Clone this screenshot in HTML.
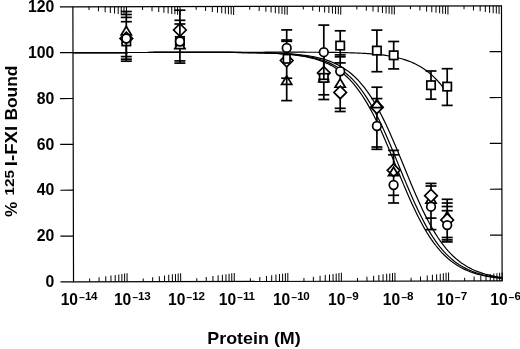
<!DOCTYPE html><html><head><meta charset="utf-8"><title>Protein binding</title>
<style>html,body{margin:0;padding:0;background:#fff}svg{display:block}text{font-family:"Liberation Sans",sans-serif;font-weight:bold;fill:#000}</style></head><body>
<svg width="520" height="349" viewBox="0 0 520 349">
<rect width="520" height="349" fill="#fff"/>
<g transform="rotate(-0.134 287.5 143.85)">
<g stroke="#000" stroke-width="1.2" fill="none" stroke-linecap="butt">
<rect x="73.2" y="6.3" width="428.6" height="275.09999999999997"/>
<line x1="60.2" y1="281.40" x2="73.2" y2="281.40"/>
<line x1="60.2" y1="235.55" x2="73.2" y2="235.55"/>
<line x1="489.8" y1="235.55" x2="501.8" y2="235.55"/>
<line x1="60.2" y1="189.70" x2="73.2" y2="189.70"/>
<line x1="489.8" y1="189.70" x2="501.8" y2="189.70"/>
<line x1="60.2" y1="143.85" x2="73.2" y2="143.85"/>
<line x1="489.8" y1="143.85" x2="501.8" y2="143.85"/>
<line x1="60.2" y1="98.00" x2="73.2" y2="98.00"/>
<line x1="489.8" y1="98.00" x2="501.8" y2="98.00"/>
<line x1="60.2" y1="52.15" x2="73.2" y2="52.15"/>
<line x1="489.8" y1="52.15" x2="501.8" y2="52.15"/>
<line x1="60.2" y1="6.30" x2="73.2" y2="6.30"/>
</g>
<g stroke="#000" stroke-width="1.0" fill="none">
<line x1="89.33" y1="6.3" x2="89.33" y2="9.56"/>
<line x1="89.33" y1="281.4" x2="89.33" y2="278.14"/>
<line x1="98.76" y1="6.3" x2="98.76" y2="10.88"/>
<line x1="98.76" y1="281.4" x2="98.76" y2="276.82"/>
<line x1="105.46" y1="6.3" x2="105.46" y2="11.82"/>
<line x1="105.46" y1="281.4" x2="105.46" y2="275.88"/>
<line x1="110.65" y1="6.3" x2="110.65" y2="12.54"/>
<line x1="110.65" y1="281.4" x2="110.65" y2="275.16"/>
<line x1="114.89" y1="6.3" x2="114.89" y2="13.14"/>
<line x1="114.89" y1="281.4" x2="114.89" y2="274.56"/>
<line x1="118.48" y1="6.3" x2="118.48" y2="13.64"/>
<line x1="118.48" y1="281.4" x2="118.48" y2="274.06"/>
<line x1="121.58" y1="6.3" x2="121.58" y2="14.07"/>
<line x1="121.58" y1="281.4" x2="121.58" y2="273.63"/>
<line x1="124.32" y1="6.3" x2="124.32" y2="14.46"/>
<line x1="124.32" y1="281.4" x2="124.32" y2="273.24"/>
<line x1="126.78" y1="6.3" x2="126.78" y2="14.80"/>
<line x1="126.78" y1="281.4" x2="126.78" y2="272.90"/>
<line x1="142.90" y1="6.3" x2="142.90" y2="9.56"/>
<line x1="142.90" y1="281.4" x2="142.90" y2="278.14"/>
<line x1="152.34" y1="6.3" x2="152.34" y2="10.88"/>
<line x1="152.34" y1="281.4" x2="152.34" y2="276.82"/>
<line x1="159.03" y1="6.3" x2="159.03" y2="11.82"/>
<line x1="159.03" y1="281.4" x2="159.03" y2="275.88"/>
<line x1="164.22" y1="6.3" x2="164.22" y2="12.54"/>
<line x1="164.22" y1="281.4" x2="164.22" y2="275.16"/>
<line x1="168.46" y1="6.3" x2="168.46" y2="13.14"/>
<line x1="168.46" y1="281.4" x2="168.46" y2="274.56"/>
<line x1="172.05" y1="6.3" x2="172.05" y2="13.64"/>
<line x1="172.05" y1="281.4" x2="172.05" y2="274.06"/>
<line x1="175.16" y1="6.3" x2="175.16" y2="14.07"/>
<line x1="175.16" y1="281.4" x2="175.16" y2="273.63"/>
<line x1="177.90" y1="6.3" x2="177.90" y2="14.46"/>
<line x1="177.90" y1="281.4" x2="177.90" y2="273.24"/>
<line x1="180.35" y1="6.3" x2="180.35" y2="14.80"/>
<line x1="180.35" y1="281.4" x2="180.35" y2="272.90"/>
<line x1="196.48" y1="6.3" x2="196.48" y2="9.56"/>
<line x1="196.48" y1="281.4" x2="196.48" y2="278.14"/>
<line x1="205.91" y1="6.3" x2="205.91" y2="10.88"/>
<line x1="205.91" y1="281.4" x2="205.91" y2="276.82"/>
<line x1="212.61" y1="6.3" x2="212.61" y2="11.82"/>
<line x1="212.61" y1="281.4" x2="212.61" y2="275.88"/>
<line x1="217.80" y1="6.3" x2="217.80" y2="12.54"/>
<line x1="217.80" y1="281.4" x2="217.80" y2="275.16"/>
<line x1="222.04" y1="6.3" x2="222.04" y2="13.14"/>
<line x1="222.04" y1="281.4" x2="222.04" y2="274.56"/>
<line x1="225.63" y1="6.3" x2="225.63" y2="13.64"/>
<line x1="225.63" y1="281.4" x2="225.63" y2="274.06"/>
<line x1="228.73" y1="6.3" x2="228.73" y2="14.07"/>
<line x1="228.73" y1="281.4" x2="228.73" y2="273.63"/>
<line x1="231.47" y1="6.3" x2="231.47" y2="14.46"/>
<line x1="231.47" y1="281.4" x2="231.47" y2="273.24"/>
<line x1="233.93" y1="6.3" x2="233.93" y2="14.80"/>
<line x1="233.93" y1="281.4" x2="233.93" y2="272.90"/>
<line x1="250.05" y1="6.3" x2="250.05" y2="9.56"/>
<line x1="250.05" y1="281.4" x2="250.05" y2="278.14"/>
<line x1="259.49" y1="6.3" x2="259.49" y2="10.88"/>
<line x1="259.49" y1="281.4" x2="259.49" y2="276.82"/>
<line x1="266.18" y1="6.3" x2="266.18" y2="11.82"/>
<line x1="266.18" y1="281.4" x2="266.18" y2="275.88"/>
<line x1="271.37" y1="6.3" x2="271.37" y2="12.54"/>
<line x1="271.37" y1="281.4" x2="271.37" y2="275.16"/>
<line x1="275.61" y1="6.3" x2="275.61" y2="13.14"/>
<line x1="275.61" y1="281.4" x2="275.61" y2="274.56"/>
<line x1="279.20" y1="6.3" x2="279.20" y2="13.64"/>
<line x1="279.20" y1="281.4" x2="279.20" y2="274.06"/>
<line x1="282.31" y1="6.3" x2="282.31" y2="14.07"/>
<line x1="282.31" y1="281.4" x2="282.31" y2="273.63"/>
<line x1="285.05" y1="6.3" x2="285.05" y2="14.46"/>
<line x1="285.05" y1="281.4" x2="285.05" y2="273.24"/>
<line x1="287.50" y1="6.3" x2="287.50" y2="14.80"/>
<line x1="287.50" y1="281.4" x2="287.50" y2="272.90"/>
<line x1="303.63" y1="6.3" x2="303.63" y2="9.56"/>
<line x1="303.63" y1="281.4" x2="303.63" y2="278.14"/>
<line x1="313.06" y1="6.3" x2="313.06" y2="10.88"/>
<line x1="313.06" y1="281.4" x2="313.06" y2="276.82"/>
<line x1="319.76" y1="6.3" x2="319.76" y2="11.82"/>
<line x1="319.76" y1="281.4" x2="319.76" y2="275.88"/>
<line x1="324.95" y1="6.3" x2="324.95" y2="12.54"/>
<line x1="324.95" y1="281.4" x2="324.95" y2="275.16"/>
<line x1="329.19" y1="6.3" x2="329.19" y2="13.14"/>
<line x1="329.19" y1="281.4" x2="329.19" y2="274.56"/>
<line x1="332.78" y1="6.3" x2="332.78" y2="13.64"/>
<line x1="332.78" y1="281.4" x2="332.78" y2="274.06"/>
<line x1="335.88" y1="6.3" x2="335.88" y2="14.07"/>
<line x1="335.88" y1="281.4" x2="335.88" y2="273.63"/>
<line x1="338.62" y1="6.3" x2="338.62" y2="14.46"/>
<line x1="338.62" y1="281.4" x2="338.62" y2="273.24"/>
<line x1="341.07" y1="6.3" x2="341.07" y2="14.80"/>
<line x1="341.07" y1="281.4" x2="341.07" y2="272.90"/>
<line x1="357.20" y1="6.3" x2="357.20" y2="9.56"/>
<line x1="357.20" y1="281.4" x2="357.20" y2="278.14"/>
<line x1="366.64" y1="6.3" x2="366.64" y2="10.88"/>
<line x1="366.64" y1="281.4" x2="366.64" y2="276.82"/>
<line x1="373.33" y1="6.3" x2="373.33" y2="11.82"/>
<line x1="373.33" y1="281.4" x2="373.33" y2="275.88"/>
<line x1="378.52" y1="6.3" x2="378.52" y2="12.54"/>
<line x1="378.52" y1="281.4" x2="378.52" y2="275.16"/>
<line x1="382.76" y1="6.3" x2="382.76" y2="13.14"/>
<line x1="382.76" y1="281.4" x2="382.76" y2="274.56"/>
<line x1="386.35" y1="6.3" x2="386.35" y2="13.64"/>
<line x1="386.35" y1="281.4" x2="386.35" y2="274.06"/>
<line x1="389.46" y1="6.3" x2="389.46" y2="14.07"/>
<line x1="389.46" y1="281.4" x2="389.46" y2="273.63"/>
<line x1="392.20" y1="6.3" x2="392.20" y2="14.46"/>
<line x1="392.20" y1="281.4" x2="392.20" y2="273.24"/>
<line x1="394.65" y1="6.3" x2="394.65" y2="14.80"/>
<line x1="394.65" y1="281.4" x2="394.65" y2="272.90"/>
<line x1="410.78" y1="6.3" x2="410.78" y2="9.56"/>
<line x1="410.78" y1="281.4" x2="410.78" y2="278.14"/>
<line x1="420.21" y1="6.3" x2="420.21" y2="10.88"/>
<line x1="420.21" y1="281.4" x2="420.21" y2="276.82"/>
<line x1="426.91" y1="6.3" x2="426.91" y2="11.82"/>
<line x1="426.91" y1="281.4" x2="426.91" y2="275.88"/>
<line x1="432.10" y1="6.3" x2="432.10" y2="12.54"/>
<line x1="432.10" y1="281.4" x2="432.10" y2="275.16"/>
<line x1="436.34" y1="6.3" x2="436.34" y2="13.14"/>
<line x1="436.34" y1="281.4" x2="436.34" y2="274.56"/>
<line x1="439.93" y1="6.3" x2="439.93" y2="13.64"/>
<line x1="439.93" y1="281.4" x2="439.93" y2="274.06"/>
<line x1="443.03" y1="6.3" x2="443.03" y2="14.07"/>
<line x1="443.03" y1="281.4" x2="443.03" y2="273.63"/>
<line x1="445.77" y1="6.3" x2="445.77" y2="14.46"/>
<line x1="445.77" y1="281.4" x2="445.77" y2="273.24"/>
<line x1="448.23" y1="6.3" x2="448.23" y2="14.80"/>
<line x1="448.23" y1="281.4" x2="448.23" y2="272.90"/>
<line x1="464.35" y1="6.3" x2="464.35" y2="9.56"/>
<line x1="464.35" y1="281.4" x2="464.35" y2="278.14"/>
<line x1="473.79" y1="6.3" x2="473.79" y2="10.88"/>
<line x1="473.79" y1="281.4" x2="473.79" y2="276.82"/>
<line x1="480.48" y1="6.3" x2="480.48" y2="11.82"/>
<line x1="480.48" y1="281.4" x2="480.48" y2="275.88"/>
<line x1="485.67" y1="6.3" x2="485.67" y2="12.54"/>
<line x1="485.67" y1="281.4" x2="485.67" y2="275.16"/>
<line x1="489.91" y1="6.3" x2="489.91" y2="13.14"/>
<line x1="489.91" y1="281.4" x2="489.91" y2="274.56"/>
<line x1="493.50" y1="6.3" x2="493.50" y2="13.64"/>
<line x1="493.50" y1="281.4" x2="493.50" y2="274.06"/>
<line x1="496.61" y1="6.3" x2="496.61" y2="14.07"/>
<line x1="496.61" y1="281.4" x2="496.61" y2="273.63"/>
<line x1="499.35" y1="6.3" x2="499.35" y2="14.46"/>
<line x1="499.35" y1="281.4" x2="499.35" y2="273.24"/>
<line x1="501.80" y1="6.3" x2="501.80" y2="14.80"/>
<line x1="501.80" y1="281.4" x2="501.80" y2="272.90"/>
</g>
<g stroke="#000" stroke-width="1.2" fill="none">
<path d="M73.20,52.15 L75.34,52.15 L77.49,52.15 L79.63,52.15 L81.77,52.15 L83.91,52.15 L86.06,52.15 L88.20,52.15 L90.34,52.15 L92.49,52.15 L94.63,52.15 L96.77,52.15 L98.92,52.15 L101.06,52.15 L103.20,52.15 L105.34,52.15 L107.49,52.15 L109.63,52.15 L111.77,52.15 L113.92,52.15 L116.06,52.15 L118.20,52.15 L120.35,52.15 L122.49,52.15 L124.63,52.15 L126.78,52.15 L128.92,52.15 L131.06,52.15 L133.20,52.15 L135.35,52.15 L137.49,52.15 L139.63,52.15 L141.78,52.15 L143.92,52.15 L146.06,52.15 L148.21,52.16 L150.35,52.16 L152.49,52.16 L154.63,52.16 L156.78,52.16 L158.92,52.16 L161.06,52.16 L163.21,52.16 L165.35,52.16 L167.49,52.16 L169.64,52.16 L171.78,52.16 L173.92,52.17 L176.06,52.17 L178.21,52.17 L180.35,52.17 L182.49,52.17 L184.64,52.18 L186.78,52.18 L188.92,52.18 L191.06,52.18 L193.21,52.19 L195.35,52.19 L197.49,52.19 L199.64,52.20 L201.78,52.20 L203.92,52.21 L206.07,52.21 L208.21,52.22 L210.35,52.23 L212.50,52.24 L214.64,52.24 L216.78,52.25 L218.92,52.26 L221.07,52.27 L223.21,52.29 L225.35,52.30 L227.50,52.31 L229.64,52.33 L231.78,52.35 L233.93,52.37 L236.07,52.39 L238.21,52.41 L240.35,52.43 L242.50,52.46 L244.64,52.49 L246.78,52.52 L248.93,52.56 L251.07,52.60 L253.21,52.64 L255.36,52.69 L257.50,52.74 L259.64,52.80 L261.78,52.86 L263.93,52.93 L266.07,53.00 L268.21,53.09 L270.36,53.18 L272.50,53.27 L274.64,53.38 L276.79,53.50 L278.93,53.63 L281.07,53.77 L283.21,53.93 L285.36,54.10 L287.50,54.28 L289.64,54.49 L291.79,54.71 L293.93,54.95 L296.07,55.22 L298.21,55.51 L300.36,55.83 L302.50,56.18 L304.64,56.56 L306.79,56.98 L308.93,57.43 L311.07,57.93 L313.22,58.47 L315.36,59.06 L317.50,59.71 L319.64,60.41 L321.79,61.18 L323.93,62.01 L326.07,62.92 L328.22,63.90 L330.36,64.97 L332.50,66.13 L334.65,67.39 L336.79,68.76 L338.93,70.23 L341.07,71.83 L343.22,73.55 L345.36,75.40 L347.50,77.40 L349.65,79.55 L351.79,81.85 L353.93,84.31 L356.08,86.94 L358.22,89.75 L360.36,92.73 L362.50,95.90 L364.65,99.26 L366.79,102.80 L368.93,106.52 L371.08,110.44 L373.22,114.53 L375.36,118.80 L377.51,123.23 L379.65,127.83 L381.79,132.57 L383.94,137.44 L386.08,142.43 L388.22,147.51 L390.36,152.68 L392.51,157.90 L394.65,163.17 L396.79,168.44 L398.94,173.71 L401.08,178.96 L403.22,184.15 L405.37,189.26 L407.51,194.29 L409.65,199.21 L411.79,204.00 L413.94,208.65 L416.08,213.14 L418.22,217.47 L420.37,221.63 L422.51,225.61 L424.65,229.41 L426.80,233.02 L428.94,236.44 L431.08,239.67 L433.22,242.73 L435.37,245.60 L437.51,248.29 L439.65,250.82 L441.80,253.18 L443.94,255.38 L446.08,257.43 L448.23,259.33 L450.37,261.10 L452.51,262.74 L454.65,264.26 L456.80,265.67 L458.94,266.97 L461.08,268.16 L463.23,269.27 L465.37,270.28 L467.51,271.22 L469.66,272.08 L471.80,272.87 L473.94,273.59 L476.08,274.26 L478.23,274.87 L480.37,275.43 L482.51,275.94 L484.66,276.41 L486.80,276.84 L488.94,277.23 L491.08,277.59 L493.23,277.92 L495.37,278.23 L497.51,278.50 L499.66,278.75 L501.80,278.98"/>
<path d="M73.20,52.15 L75.34,52.15 L77.49,52.15 L79.63,52.15 L81.77,52.15 L83.91,52.15 L86.06,52.15 L88.20,52.15 L90.34,52.15 L92.49,52.15 L94.63,52.15 L96.77,52.15 L98.92,52.15 L101.06,52.15 L103.20,52.15 L105.34,52.15 L107.49,52.15 L109.63,52.15 L111.77,52.15 L113.92,52.15 L116.06,52.15 L118.20,52.15 L120.35,52.15 L122.49,52.15 L124.63,52.15 L126.78,52.15 L128.92,52.15 L131.06,52.15 L133.20,52.15 L135.35,52.15 L137.49,52.15 L139.63,52.15 L141.78,52.15 L143.92,52.15 L146.06,52.15 L148.21,52.15 L150.35,52.16 L152.49,52.16 L154.63,52.16 L156.78,52.16 L158.92,52.16 L161.06,52.16 L163.21,52.16 L165.35,52.16 L167.49,52.16 L169.64,52.16 L171.78,52.16 L173.92,52.16 L176.06,52.17 L178.21,52.17 L180.35,52.17 L182.49,52.17 L184.64,52.17 L186.78,52.17 L188.92,52.18 L191.06,52.18 L193.21,52.18 L195.35,52.19 L197.49,52.19 L199.64,52.19 L201.78,52.20 L203.92,52.20 L206.07,52.21 L208.21,52.21 L210.35,52.22 L212.50,52.23 L214.64,52.23 L216.78,52.24 L218.92,52.25 L221.07,52.26 L223.21,52.27 L225.35,52.28 L227.50,52.29 L229.64,52.31 L231.78,52.32 L233.93,52.34 L236.07,52.36 L238.21,52.38 L240.35,52.40 L242.50,52.42 L244.64,52.45 L246.78,52.48 L248.93,52.51 L251.07,52.54 L253.21,52.58 L255.36,52.62 L257.50,52.67 L259.64,52.72 L261.78,52.77 L263.93,52.83 L266.07,52.90 L268.21,52.97 L270.36,53.05 L272.50,53.14 L274.64,53.23 L276.79,53.33 L278.93,53.45 L281.07,53.57 L283.21,53.71 L285.36,53.86 L287.50,54.02 L289.64,54.20 L291.79,54.40 L293.93,54.61 L296.07,54.85 L298.21,55.10 L300.36,55.38 L302.50,55.69 L304.64,56.03 L306.79,56.39 L308.93,56.79 L311.07,57.23 L313.22,57.71 L315.36,58.23 L317.50,58.80 L319.64,59.42 L321.79,60.10 L323.93,60.84 L326.07,61.64 L328.22,62.52 L330.36,63.47 L332.50,64.50 L334.65,65.62 L336.79,66.84 L338.93,68.16 L341.07,69.58 L343.22,71.13 L345.36,72.79 L347.50,74.59 L349.65,76.52 L351.79,78.60 L353.93,80.84 L356.08,83.23 L358.22,85.79 L360.36,88.52 L362.50,91.43 L364.65,94.51 L366.79,97.79 L368.93,101.25 L371.08,104.89 L373.22,108.73 L375.36,112.74 L377.51,116.94 L379.65,121.30 L381.79,125.83 L383.94,130.51 L386.08,135.33 L388.22,140.27 L390.36,145.31 L392.51,150.45 L394.65,155.65 L396.79,160.90 L398.94,166.17 L401.08,171.45 L403.22,176.70 L405.37,181.92 L407.51,187.07 L409.65,192.14 L411.79,197.10 L413.94,201.95 L416.08,206.66 L418.22,211.23 L420.37,215.63 L422.51,219.86 L424.65,223.92 L426.80,227.79 L428.94,231.48 L431.08,234.99 L433.22,238.30 L435.37,241.43 L437.51,244.38 L439.65,247.15 L441.80,249.75 L443.94,252.18 L446.08,254.45 L448.23,256.56 L450.37,258.53 L452.51,260.36 L454.65,262.05 L456.80,263.62 L458.94,265.08 L461.08,266.42 L463.23,267.66 L465.37,268.80 L467.51,269.85 L469.66,270.82 L471.80,271.71 L473.94,272.53 L476.08,273.29 L478.23,273.98 L480.37,274.61 L482.51,275.19 L484.66,275.72 L486.80,276.21 L488.94,276.66 L491.08,277.07 L493.23,277.44 L495.37,277.79 L497.51,278.10 L499.66,278.39 L501.80,278.65"/>
<path d="M73.20,52.15 L75.34,52.15 L77.49,52.15 L79.63,52.15 L81.77,52.15 L83.91,52.15 L86.06,52.15 L88.20,52.15 L90.34,52.15 L92.49,52.15 L94.63,52.15 L96.77,52.15 L98.92,52.15 L101.06,52.15 L103.20,52.15 L105.34,52.15 L107.49,52.15 L109.63,52.15 L111.77,52.15 L113.92,52.15 L116.06,52.15 L118.20,52.15 L120.35,52.15 L122.49,52.15 L124.63,52.15 L126.78,52.15 L128.92,52.15 L131.06,52.15 L133.20,52.15 L135.35,52.15 L137.49,52.15 L139.63,52.15 L141.78,52.15 L143.92,52.15 L146.06,52.15 L148.21,52.15 L150.35,52.15 L152.49,52.15 L154.63,52.16 L156.78,52.16 L158.92,52.16 L161.06,52.16 L163.21,52.16 L165.35,52.16 L167.49,52.16 L169.64,52.16 L171.78,52.16 L173.92,52.16 L176.06,52.16 L178.21,52.16 L180.35,52.17 L182.49,52.17 L184.64,52.17 L186.78,52.17 L188.92,52.17 L191.06,52.17 L193.21,52.18 L195.35,52.18 L197.49,52.18 L199.64,52.19 L201.78,52.19 L203.92,52.19 L206.07,52.20 L208.21,52.20 L210.35,52.21 L212.50,52.21 L214.64,52.22 L216.78,52.22 L218.92,52.23 L221.07,52.24 L223.21,52.25 L225.35,52.26 L227.50,52.27 L229.64,52.28 L231.78,52.29 L233.93,52.30 L236.07,52.32 L238.21,52.33 L240.35,52.35 L242.50,52.37 L244.64,52.39 L246.78,52.42 L248.93,52.44 L251.07,52.47 L253.21,52.50 L255.36,52.54 L257.50,52.57 L259.64,52.61 L261.78,52.66 L263.93,52.71 L266.07,52.76 L268.21,52.82 L270.36,52.88 L272.50,52.95 L274.64,53.03 L276.79,53.12 L278.93,53.21 L281.07,53.31 L283.21,53.42 L285.36,53.54 L287.50,53.68 L289.64,53.82 L291.79,53.98 L293.93,54.16 L296.07,54.35 L298.21,54.56 L300.36,54.79 L302.50,55.04 L304.64,55.32 L306.79,55.62 L308.93,55.95 L311.07,56.31 L313.22,56.70 L315.36,57.13 L317.50,57.60 L319.64,58.12 L321.79,58.68 L323.93,59.28 L326.07,59.95 L328.22,60.67 L330.36,61.46 L332.50,62.32 L334.65,63.26 L336.79,64.27 L338.93,65.37 L341.07,66.57 L343.22,67.86 L345.36,69.27 L347.50,70.78 L349.65,72.42 L351.79,74.19 L353.93,76.09 L356.08,78.14 L358.22,80.34 L360.36,82.70 L362.50,85.22 L364.65,87.92 L366.79,90.78 L368.93,93.83 L371.08,97.07 L373.22,100.49 L375.36,104.09 L377.51,107.89 L379.65,111.86 L381.79,116.02 L383.94,120.35 L386.08,124.84 L388.22,129.49 L390.36,134.28 L392.51,139.19 L394.65,144.22 L396.79,149.34 L398.94,154.52 L401.08,159.76 L403.22,165.03 L405.37,170.31 L407.51,175.57 L409.65,180.80 L411.79,185.97 L413.94,191.05 L416.08,196.04 L418.22,200.92 L420.37,205.66 L422.51,210.26 L424.65,214.69 L426.80,218.97 L428.94,223.06 L431.08,226.98 L433.22,230.71 L435.37,234.25 L437.51,237.60 L439.65,240.78 L441.80,243.76 L443.94,246.57 L446.08,249.21 L448.23,251.67 L450.37,253.97 L452.51,256.12 L454.65,258.12 L456.80,259.98 L458.94,261.70 L461.08,263.30 L463.23,264.77 L465.37,266.14 L467.51,267.40 L469.66,268.56 L471.80,269.63 L473.94,270.62 L476.08,271.53 L478.23,272.36 L480.37,273.13 L482.51,273.83 L484.66,274.48 L486.80,275.07 L488.94,275.61 L491.08,276.11 L493.23,276.57 L495.37,276.98 L497.51,277.37 L499.66,277.71 L501.80,278.03"/>
<path d="M73.20,52.15 L75.05,52.15 L76.90,52.15 L78.75,52.15 L80.60,52.15 L82.46,52.15 L84.31,52.15 L86.16,52.15 L88.01,52.15 L89.86,52.15 L91.71,52.15 L93.56,52.15 L95.41,52.15 L97.26,52.15 L99.11,52.15 L100.97,52.15 L102.82,52.15 L104.67,52.15 L106.52,52.15 L108.37,52.15 L110.22,52.15 L112.07,52.15 L113.92,52.15 L115.77,52.15 L117.62,52.15 L119.48,52.15 L121.33,52.15 L123.18,52.15 L125.03,52.15 L126.88,52.15 L128.73,52.15 L130.58,52.15 L132.43,52.15 L134.28,52.15 L136.13,52.15 L137.99,52.15 L139.84,52.15 L141.69,52.15 L143.54,52.15 L145.39,52.15 L147.24,52.15 L149.09,52.15 L150.94,52.15 L152.79,52.15 L154.64,52.15 L156.50,52.15 L158.35,52.15 L160.20,52.15 L162.05,52.15 L163.90,52.15 L165.75,52.15 L167.60,52.15 L169.45,52.15 L171.30,52.15 L173.15,52.15 L175.01,52.15 L176.86,52.15 L178.71,52.15 L180.56,52.15 L182.41,52.15 L184.26,52.15 L186.11,52.15 L187.96,52.15 L189.81,52.15 L191.67,52.15 L193.52,52.15 L195.37,52.15 L197.22,52.15 L199.07,52.15 L200.92,52.15 L202.77,52.15 L204.62,52.15 L206.47,52.15 L208.32,52.15 L210.18,52.15 L212.03,52.15 L213.88,52.15 L215.73,52.15 L217.58,52.15 L219.43,52.15 L221.28,52.15 L223.13,52.15 L224.98,52.15 L226.83,52.15 L228.69,52.15 L230.54,52.15 L232.39,52.15 L234.24,52.16 L236.09,52.16 L237.94,52.16 L239.79,52.16 L241.64,52.16 L243.49,52.16 L245.34,52.16 L247.20,52.16 L249.05,52.16 L250.90,52.16 L252.75,52.16 L254.60,52.16 L256.45,52.16 L258.30,52.16 L260.15,52.17 L262.00,52.17 L263.85,52.17 L265.71,52.17 L267.56,52.17 L269.41,52.17 L271.26,52.18 L273.11,52.18 L274.96,52.18 L276.81,52.18 L278.66,52.19 L280.51,52.19 L282.36,52.19 L284.22,52.20 L286.07,52.20 L287.92,52.20 L289.77,52.21 L291.62,52.21 L293.47,52.22 L295.32,52.22 L297.17,52.23 L299.02,52.24 L300.87,52.24 L302.73,52.25 L304.58,52.26 L306.43,52.27 L308.28,52.28 L310.13,52.29 L311.98,52.30 L313.83,52.31 L315.68,52.32 L317.53,52.34 L319.39,52.35 L321.24,52.37 L323.09,52.39 L324.94,52.41 L326.79,52.43 L328.64,52.45 L330.49,52.48 L332.34,52.51 L334.19,52.54 L336.04,52.57 L337.90,52.60 L339.75,52.64 L341.60,52.68 L343.45,52.73 L345.30,52.77 L347.15,52.82 L349.00,52.88 L350.85,52.94 L352.70,53.01 L354.55,53.08 L356.41,53.15 L358.26,53.24 L360.11,53.32 L361.96,53.42 L363.81,53.53 L365.66,53.64 L367.51,53.76 L369.36,53.89 L371.21,54.04 L373.06,54.19 L374.92,54.36 L376.77,54.54 L378.62,54.74 L380.47,54.95 L382.32,55.18 L384.17,55.42 L386.02,55.69 L387.87,55.98 L389.72,56.29 L391.57,56.63 L393.43,56.99 L395.28,57.38 L397.13,57.80 L398.98,58.26 L400.83,58.75 L402.68,59.28 L404.53,59.85 L406.38,60.46 L408.23,61.13 L410.08,61.84 L411.94,62.60 L413.79,63.43 L415.64,64.31 L417.49,65.26 L419.34,66.28 L421.19,67.37 L423.04,68.54 L424.89,69.79 L426.74,71.13 L428.60,72.57 L430.45,74.09 L432.30,75.72 L434.15,77.46 L436.00,79.31 L437.85,81.27 L439.70,83.35 L441.55,85.56 L443.40,87.90"/>
</g>
</g>
<g stroke="#000" stroke-width="1.7" fill="#fff" stroke-linejoin="miter">
<line x1="126.3" y1="11.5" x2="126.3" y2="61.2"/><line x1="120.8" y1="11.5" x2="131.8" y2="11.5"/><line x1="120.8" y1="14.5" x2="131.8" y2="14.5"/><line x1="120.8" y1="17.4" x2="131.8" y2="17.4"/><line x1="120.8" y1="21.7" x2="131.8" y2="21.7"/><line x1="120.8" y1="56.6" x2="131.8" y2="56.6"/><line x1="120.8" y1="59.2" x2="131.8" y2="59.2"/><line x1="120.8" y1="61.2" x2="131.8" y2="61.2"/>
<path d="M126.3,26.45 L131.4,34.85 L121.2,34.85 Z"/>
<path d="M126.3,32.2 L132.6,38.5 L126.3,44.8 L120.0,38.5 Z"/>
<rect x="122.10" y="37.20" width="8.4" height="8.4"/>
<line x1="126.3" y1="38.5" x2="126.3" y2="59.2"/>
<circle cx="126.3" cy="38.5" r="4.3"/>
<line x1="179.9" y1="10.2" x2="179.9" y2="63.1"/><line x1="174.4" y1="10.2" x2="185.4" y2="10.2"/><line x1="174.4" y1="20.3" x2="185.4" y2="20.3"/><line x1="174.4" y1="24" x2="185.4" y2="24"/><line x1="174.4" y1="60.9" x2="185.4" y2="60.9"/><line x1="174.4" y1="63.1" x2="185.4" y2="63.1"/>
<path d="M179.9,40.20 L185.0,48.60 L174.8,48.60 Z"/>
<path d="M179.9,23.7 L186.20000000000002,30 L179.9,36.3 L173.6,30 Z"/>
<rect x="175.70" y="36.80" width="8.4" height="8.4"/>
<line x1="179.9" y1="20.3" x2="179.9" y2="36.5"/>
<circle cx="179.9" cy="41.5" r="4.3"/>
<line x1="286.7" y1="29.9" x2="286.7" y2="100.6"/><line x1="281.2" y1="29.9" x2="292.2" y2="29.9"/><line x1="281.2" y1="40" x2="292.2" y2="40"/><line x1="281.2" y1="41.3" x2="292.2" y2="41.3"/><line x1="281.2" y1="78.2" x2="292.2" y2="78.2"/><line x1="281.2" y1="100.6" x2="292.2" y2="100.6"/>
<path d="M286.7,54.2 L293.0,60.5 L286.7,66.8 L280.4,60.5 Z"/>
<g fill="none"><path d="M286.7,76.00 L291.8,84.40 L281.59999999999997,84.40 Z"/></g>
<rect x="283.40" y="54.60" width="6.6" height="8.4"/>
<circle cx="286.7" cy="47.9" r="4.3"/>
<line x1="323.8" y1="25.1" x2="323.8" y2="99.5"/><line x1="318.3" y1="25.1" x2="329.3" y2="25.1"/><line x1="318.3" y1="94.8" x2="329.3" y2="94.8"/><line x1="318.3" y1="99.5" x2="329.3" y2="99.5"/>
<path d="M323.8,73.35 L328.90000000000003,81.75 L318.7,81.75 Z"/>
<path d="M323.8,66.60000000000001 L330.1,72.9 L323.8,79.2 L317.5,72.9 Z"/>
<rect x="319.60" y="73.70" width="8.4" height="8.4"/>
<line x1="323.8" y1="52.2" x2="323.8" y2="79.3"/>
<line x1="318.3" y1="79.3" x2="329.3" y2="79.3"/>
<circle cx="323.8" cy="52.2" r="4.3"/>
<line x1="340.2" y1="30.8" x2="340.2" y2="111.5"/><line x1="334.7" y1="30.8" x2="345.7" y2="30.8"/><line x1="334.7" y1="54.9" x2="345.7" y2="54.9"/><line x1="334.7" y1="56.8" x2="345.7" y2="56.8"/><line x1="334.7" y1="62.9" x2="345.7" y2="62.9"/><line x1="334.7" y1="108.3" x2="345.7" y2="108.3"/><line x1="334.7" y1="111.5" x2="345.7" y2="111.5"/>
<path d="M340.2,78.85 L345.3,87.25 L335.09999999999997,87.25 Z"/>
<path d="M340.2,86.10000000000001 L346.5,92.4 L340.2,98.7 L333.9,92.4 Z"/>
<rect x="336.00" y="41.40" width="8.4" height="8.4"/>
<circle cx="340.2" cy="71.3" r="4.3"/>
<line x1="376.9" y1="87.2" x2="376.9" y2="149.3"/><line x1="371.4" y1="87.2" x2="382.4" y2="87.2"/><line x1="371.4" y1="98.6" x2="382.4" y2="98.6"/><line x1="371.4" y1="147.0" x2="382.4" y2="147.0"/><line x1="371.4" y1="149.3" x2="382.4" y2="149.3"/>
<path d="M376.9,100.9 L383.2,107.2 L376.9,113.5 L370.59999999999997,107.2 Z"/>
<g fill="none"><path d="M376.9,99.20 L382.0,107.60 L371.79999999999995,107.60 Z"/></g>
<circle cx="376.9" cy="126" r="4.3"/>
<line x1="376.9" y1="30.1" x2="376.9" y2="71.7"/><line x1="371.4" y1="30.1" x2="382.4" y2="30.1"/><line x1="371.4" y1="71.7" x2="382.4" y2="71.7"/>
<rect x="372.70" y="46.40" width="8.4" height="8.4"/>
<line x1="393.6" y1="150.4" x2="393.6" y2="203"/><line x1="388.1" y1="150.4" x2="399.1" y2="150.4"/><line x1="388.1" y1="154.8" x2="399.1" y2="154.8"/><line x1="388.1" y1="195.3" x2="399.1" y2="195.3"/><line x1="388.1" y1="203" x2="399.1" y2="203"/>
<path d="M393.6,164.0 L399.90000000000003,170.3 L393.6,176.60000000000002 L387.3,170.3 Z"/>
<g fill="none"><path d="M393.6,167.25 L398.70000000000005,175.65 L388.5,175.65 Z"/></g>
<circle cx="393.6" cy="185" r="4.3"/>
<line x1="393.7" y1="41.5" x2="393.7" y2="68.9"/><line x1="388.2" y1="41.5" x2="399.2" y2="41.5"/><line x1="388.2" y1="68.9" x2="399.2" y2="68.9"/>
<rect x="389.50" y="51.10" width="8.4" height="8.4"/>
<line x1="431" y1="183.4" x2="431" y2="229.6"/><line x1="425.5" y1="183.4" x2="436.5" y2="183.4"/><line x1="425.5" y1="186" x2="436.5" y2="186"/><line x1="425.5" y1="218.1" x2="436.5" y2="218.1"/><line x1="425.5" y1="229.6" x2="436.5" y2="229.6"/>
<path d="M431,194.75 L436.1,203.15 L425.9,203.15 Z"/>
<path d="M431,189.39999999999998 L437.3,195.7 L431,202.0 L424.7,195.7 Z"/>
<circle cx="431" cy="206.7" r="4.3"/>
<line x1="431" y1="71" x2="431" y2="99.2"/><line x1="425.5" y1="71" x2="436.5" y2="71"/><line x1="425.5" y1="99.2" x2="436.5" y2="99.2"/>
<rect x="426.80" y="81.00" width="8.4" height="8.4"/>
<line x1="447.2" y1="199.3" x2="447.2" y2="241.9"/><line x1="441.7" y1="199.3" x2="452.7" y2="199.3"/><line x1="441.7" y1="203" x2="452.7" y2="203"/><line x1="441.7" y1="206.5" x2="452.7" y2="206.5"/><line x1="441.7" y1="210.7" x2="452.7" y2="210.7"/><line x1="441.7" y1="237.5" x2="452.7" y2="237.5"/><line x1="441.7" y1="239.9" x2="452.7" y2="239.9"/><line x1="441.7" y1="241.9" x2="452.7" y2="241.9"/>
<path d="M447.2,211.75 L452.3,220.15 L442.09999999999997,220.15 Z"/>
<path d="M447.2,213.7 L453.5,220 L447.2,226.3 L440.9,220 Z"/>
<circle cx="447.2" cy="225.1" r="4.3"/>
<line x1="447.2" y1="68.7" x2="447.2" y2="105.4"/><line x1="441.7" y1="68.7" x2="452.7" y2="68.7"/><line x1="441.7" y1="105.4" x2="452.7" y2="105.4"/>
<rect x="443.00" y="82.40" width="8.4" height="8.4"/>
</g>
<text x="54.3" y="287.10" font-size="15.8" text-anchor="end">0</text>
<text x="54.3" y="241.25" font-size="15.8" text-anchor="end">20</text>
<text x="54.3" y="195.40" font-size="15.8" text-anchor="end">40</text>
<text x="54.3" y="149.55" font-size="15.8" text-anchor="end">60</text>
<text x="54.3" y="103.70" font-size="15.8" text-anchor="end">80</text>
<text x="54.3" y="57.85" font-size="15.8" text-anchor="end">100</text>
<text x="54.3" y="12.00" font-size="15.8" text-anchor="end">120</text>
<text x="60.70" y="304.5" font-size="15.6">10<tspan font-size="10" dy="-3.2" dx="1.2">−</tspan><tspan font-size="11.6" dy="-1.2" dx="-0.2" letter-spacing="-0.3">14</tspan></text>
<text x="113.88" y="304.5" font-size="15.6">10<tspan font-size="10" dy="-3.2" dx="1.2">−</tspan><tspan font-size="11.6" dy="-1.2" dx="-0.2" letter-spacing="-0.3">13</tspan></text>
<text x="168.05" y="304.5" font-size="15.6">10<tspan font-size="10" dy="-3.2" dx="1.2">−</tspan><tspan font-size="11.6" dy="-1.2" dx="-0.2" letter-spacing="-0.3">12</tspan></text>
<text x="218.73" y="304.5" font-size="15.6">10<tspan font-size="10" dy="-3.2" dx="1.2">−</tspan><tspan font-size="11.6" dy="-1.2" dx="-0.2" letter-spacing="-0.3">11</tspan></text>
<text x="272.95" y="304.5" font-size="15.6">10<tspan font-size="10" dy="-3.2" dx="1.2">−</tspan><tspan font-size="11.6" dy="-1.2" dx="-0.2" letter-spacing="-0.3">10</tspan></text>
<text x="327.97" y="304.5" font-size="15.6">10<tspan font-size="10" dy="-3.2" dx="1.2">−</tspan><tspan font-size="11.6" dy="-1.2" dx="-0.2" letter-spacing="-0.3">9</tspan></text>
<text x="382.85" y="304.5" font-size="15.6">10<tspan font-size="10" dy="-3.2" dx="1.2">−</tspan><tspan font-size="11.6" dy="-1.2" dx="-0.2" letter-spacing="-0.3">8</tspan></text>
<text x="436.53" y="304.5" font-size="15.6">10<tspan font-size="10" dy="-3.2" dx="1.2">−</tspan><tspan font-size="11.6" dy="-1.2" dx="-0.2" letter-spacing="-0.3">7</tspan></text>
<text x="490.25" y="304.5" font-size="15.6">10<tspan font-size="10" dy="-3.2" dx="1.2">−</tspan><tspan font-size="11.6" dy="-1.2" dx="-0.2" letter-spacing="-0.3">6</tspan></text>
<text x="207.3" y="343.5" font-size="16.6" textLength="93.4" lengthAdjust="spacingAndGlyphs">Protein (M)</text>
<g transform="translate(16.5,0) rotate(-90)" font-size="16">
<text x="-217.1" y="0.6" font-size="17.2" textLength="15.3" lengthAdjust="spacingAndGlyphs">%</text>
<text x="-195.6" y="-2.5" font-size="12.8" textLength="25.5" lengthAdjust="spacingAndGlyphs">125</text>
<text x="-166.2" y="0" textLength="40.3" lengthAdjust="spacingAndGlyphs">I-FXI</text>
<text x="-120.6" y="0" textLength="55" lengthAdjust="spacingAndGlyphs">Bound</text>
</g>
</svg></body></html>
